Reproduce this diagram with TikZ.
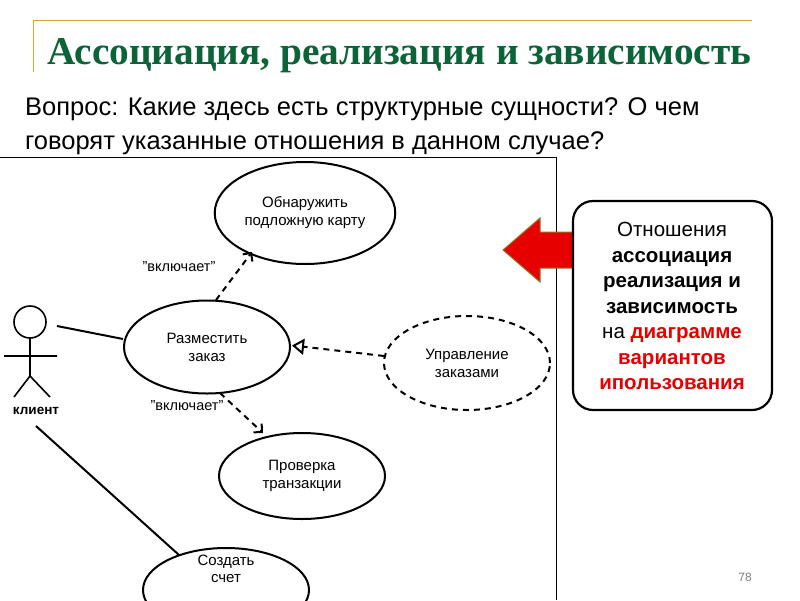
\documentclass[tikz,border=0pt]{standalone}
\usepackage{fontspec}
\setmainfont{Liberation Sans}
\newfontfamily\titlefont{Liberation Serif}
\usetikzlibrary{arrows.meta,shapes.geometric}
\definecolor{gold}{RGB}{205,170,60}
\definecolor{tgreen}{RGB}{10,100,55}
\definecolor{ared}{RGB}{230,0,0}
\begin{document}
\begin{tikzpicture}[x=1pt,y=-1pt,
  uc/.style={draw,ellipse,line width=2pt,minimum width=#1,font=\fontsize{15}{18}\selectfont,align=center},
  uc/.default=166pt,
  dep/.style={line width=2pt,dash pattern=on 6pt off 5pt},
  lbl/.style={font=\fontsize{14.5}{17}\selectfont}]
\useasboundingbox (0,0) rectangle (800,600);
\fill[white] (0,0) rectangle (800,600);
% title decoration
\draw[gold,line width=1pt] (33,72) -- (33,20) -- (752,20);
\node[anchor=base west,text=tgreen,font=\titlefont\bfseries\fontsize{39.3}{42}\selectfont,inner sep=0] (title) at (47,64) {Ассоциация, реализация и зависимость};
\node[anchor=base west,font=\fontsize{25.5}{28}\selectfont,inner sep=0] (q1) at (25,115) {Вопрос: Какие здесь есть структурные сущности? О чем};
\node[anchor=base west,font=\fontsize{25.5}{28}\selectfont,inner sep=0] (q2) at (25,149) {говорят указанные отношения в данном случае?};
% picture frame
\draw[line width=1pt] (0,157) -- (556,157) -- (556,600);
% use cases
\node[uc,minimum height=102pt] (obn) at (305,213) {Обнаружить\\подложную карту};
\node[uc,minimum height=93pt] (raz) at (207,347) {Разместить\\заказ};
\node[uc,minimum height=94pt,dep] (upr) at (467,363) {Управление\\заказами};
\node[uc,minimum height=86pt] (pro) at (302,476) {Проверка\\транзакции};
\node[uc,minimum height=84pt] (soz) at (226,590) {};
\node[align=center,font=\fontsize{15}{17}\selectfont] (sozt) at (226,569) {Создать\\счет};
% actor
\draw[line width=1.6pt] (30,322) circle (16);
\coordinate (neck) at (30,338);
\coordinate (hip) at (30,376);
\draw[line width=1.6pt] (neck) -- (hip) (4,356) -- (57,356) (14,397) -- (hip) -- (50,397);
\node[font=\fontsize{13.5}{15}\selectfont\bfseries] (kl) at (36,411) {клиент};
\coordinate (a1) at (57,326);
\coordinate (a2) at (36,426);
\draw[line width=2pt] (a1) -- (raz.west |- 0,339);
\draw[line width=2pt] (a2) -- (179,555);
% dependencies
\draw[dep,-{Straight Barb[length=6pt,width=12pt]}] (216,300) -- (252,252);
\node[lbl] (i1) at (179,267) {\char34 включает\char34};
\draw[dep,-{Straight Barb[length=6pt,width=12pt]}] (220,393) -- (263,433);
\node[lbl] (i2) at (187,406) {\char34 включает\char34};
\draw[dep] (384,356) -- (306,347);
\draw[line width=2pt,-{Triangle[open,length=12pt,width=16pt]}] (306,347) -- (292,345.5);
% red arrow
\draw[fill=ared,draw=gold!70!black,line width=1pt] (503,250) -- (540,218) -- (540,232) -- (580,232) -- (580,268) -- (540,268) -- (540,282) -- cycle;
% box
\node[draw,line width=2.2pt,rounded corners=20pt,fill=white,minimum width=199pt,minimum height=209pt] (box) at (672.5,305.5) {};
\node[align=center,font=\fontsize{20.5}{25.5}\selectfont] (bt) at (672,306) {Отношения\\\textbf{ассоциация}\\\textbf{реализация и}\\\textbf{зависимость}\\на \textcolor{ared}{\textbf{диаграмме}}\\\textcolor{ared}{\textbf{вариантов}}\\\textcolor{ared}{\textbf{ипользования}}};
\node[text=gray,font=\fontsize{12}{13}\selectfont] (pg) at (745,577) {78};
\end{tikzpicture}
\end{document}
